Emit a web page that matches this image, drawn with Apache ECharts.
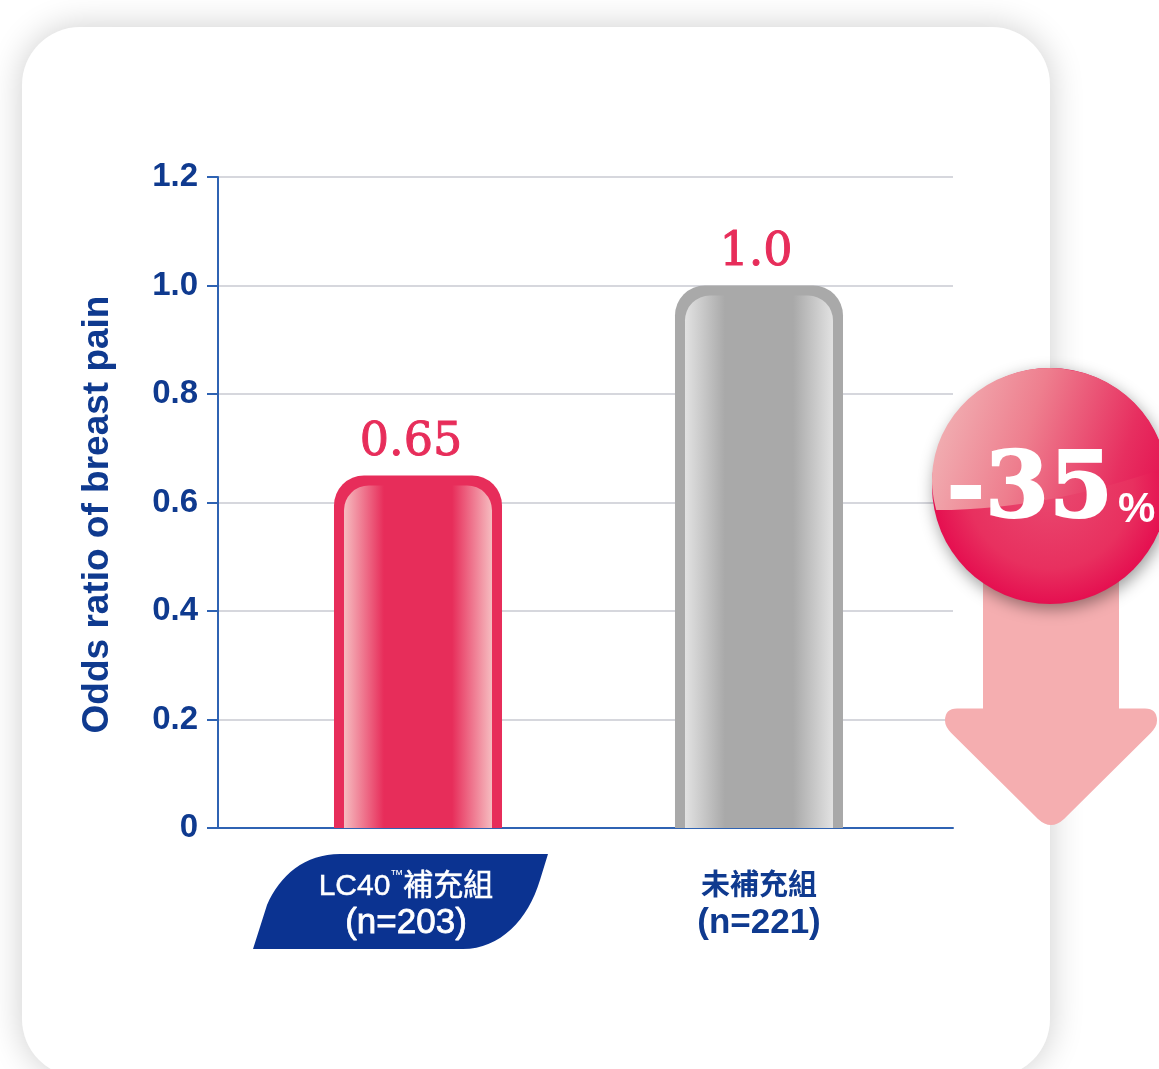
<!DOCTYPE html>
<html>
<head>
<meta charset="utf-8">
<style>
html, body { margin: 0; padding: 0; background: #fff; }
#chart { width: 1159px; height: 1069px; }
</style>
<script src="https://cdn.jsdelivr.net/npm/echarts@6/dist/echarts.min.js"></script>
</head>
<body>
<div id="chart"></div>
<script>
const categories = ['LC40™補充組', '未補充組'];
const sampleSizes = ['(n=203)', '(n=221)'];
const oddsRatios = [0.65, 1.0];
const valueLabels = ['0.65', '1.0'];
const yTickLabels = ['0', '0.2', '0.4', '0.6', '0.8', '1.0', '1.2'];
const yAxisTitle = 'Odds ratio of breast pain';
const reductionLabel = '-35';
const reductionUnit = '%';

const NAVY = '#0f3a8f';
const AXIS_BLUE = '#2f63b3';
const SANS = '"Liberation Sans", "Noto Sans CJK TC", sans-serif';
const SERIF = '"DejaVu Serif", serif';
const barColors = [
    { base: '#e72d5a', light: '#f6bcc0' },
    { base: '#a9a9a9', light: '#e2e2e2' },
];

function pathEl(d, x, y, width, height, style, z2) {
    return { type: 'path', z2: z2 || 0, shape: { pathData: d, x, y, width, height, layout: 'cover' }, style };
}

// card and label plate, sits under the axes
function renderBackdrop() {
    return {
        type: 'group',
        children: [
            {
                type: 'rect',
                shape: { x: 22, y: 27, width: 1028, height: 1050, r: 58 },
                style: { fill: '#fff', shadowBlur: 34, shadowColor: 'rgba(0,0,0,0.2)' },
            },
            pathEl('M253 949L267 905C280 875 305 854 340 854L548 854L540 880C528 920 500 949 463 949Z', 253, 854, 295, 95, { fill: '#0b3391' }, 1),
        ],
    };
}

// arrow and -35% ball, sits above the grid lines
function renderCallout() {
    const gloss = new echarts.graphic.LinearGradient(0, 0, 1, 0.55, [
        { offset: 0, color: '#f2bcbc' },
        { offset: 0.45, color: '#ee7e8e' },
        { offset: 0.85, color: '#e72f60' },
        { offset: 1, color: '#e51a55' },
    ]);
    const ball = new echarts.graphic.RadialGradient(0.5, 0.5, 0.5, [
        { offset: 0, color: '#e94a70' },
        { offset: 0.7, color: '#e8305f' },
        { offset: 1, color: '#e50f50' },
    ]);
    return {
        type: 'group',
        children: [
            pathEl('M983 560L1119 560L1119 708L1145 708Q1157 708 1157 720Q1157 726 1151 732L1064 818Q1051 830 1038 818L951 732Q945 726 945 720Q945 708 957 708L983 708Z',
                945, 560, 212, 265, { fill: '#f5aeb0' }, 0),
            {
                type: 'circle',
                z2: 1,
                shape: { cx: 1050, cy: 486, r: 118 },
                style: { fill: ball, shadowBlur: 16, shadowOffsetX: 2, shadowOffsetY: 5, shadowColor: 'rgba(0,0,0,0.4)' },
            },
            pathEl('M935 510A118 118 0 1 1 1166 465C1100 490 1020 510 935 510Z', 932, 368, 234, 142, { fill: gloss }, 2),
            {
                type: 'text',
                z2: 3,
                style: {
                    x: 1113, y: 493, text: reductionLabel, fill: '#fff', stroke: '#fff', lineWidth: 2,
                    fontFamily: SERIF, fontWeight: 'bold', fontSize: 92,
                    align: 'right', verticalAlign: 'middle',
                },
            },
            {
                type: 'text',
                z2: 3,
                style: {
                    x: 1118, y: 510, text: reductionUnit, fill: '#fff',
                    fontFamily: SANS, fontWeight: 'bold', fontSize: 42,
                    align: 'left', verticalAlign: 'middle',
                },
            },
        ],
    };
}

function renderBar(params, api) {
    const i = params.dataIndex;
    const top = api.coord([i, api.value(1)]);
    const bottom = api.coord([i, 0]);
    const w = api.size([1, 0])[0] * 0.4927;
    const x = top[0] - w / 2;
    const inset = 10;
    const colors = barColors[i];
    const sheen = new echarts.graphic.LinearGradient(0, 0, 1, 0, [
        { offset: 0, color: colors.light },
        { offset: 0.27, color: colors.base },
        { offset: 0.73, color: colors.base },
        { offset: 1, color: colors.light },
    ]);
    return {
        type: 'group',
        children: [
            {
                type: 'rect',
                shape: { x, y: top[1], width: w, height: bottom[1] - top[1], r: [30, 30, 0, 0] },
                style: { fill: colors.base },
            },
            {
                type: 'rect',
                shape: { x: x + inset, y: top[1] + inset, width: w - inset * 2, height: bottom[1] - top[1] - inset, r: [25, 25, 0, 0] },
                style: { fill: sheen },
            },
            {
                type: 'text',
                style: {
                    x: top[0] - (i === 0 ? 7 : 3), y: top[1] - 32, text: valueLabels[i], fill: '#e72d5a',
                    stroke: '#e72d5a', lineWidth: 1,
                    fontFamily: SERIF, fontSize: 46, align: 'center', verticalAlign: 'middle',
                },
            },
        ],
    };
}

const chart = echarts.init(document.getElementById('chart'));
chart.setOption({
    animation: false,
    backgroundColor: '#fff',
    grid: [
        { left: 218, top: 177, width: 735, height: 651 },
        { left: 247.5, top: 177, width: 682, height: 651 },
    ],
    xAxis: [
        {
            type: 'value', gridIndex: 0, min: 0, max: 1,
            axisLine: { show: true, lineStyle: { color: AXIS_BLUE, width: 2 } },
            axisTick: { show: false }, axisLabel: { show: false }, splitLine: { show: false },
        },
        {
            type: 'category', gridIndex: 1,
            data: categories.map((name, i) => ({
                value: name,
                textStyle: { padding: i === 0 ? [0, 24, 0, 0] : 0 },
            })),
            axisLine: { show: false }, axisTick: { show: false },
            axisLabel: {
                margin: 41,
                fontFamily: SANS,
                lineHeight: 36,
                formatter: (value, i) => {
                    const parts = value.split('™');
                    const head = parts.length > 1
                        ? `{h${i}|${parts[0]}}{tm|™}{h${i}|${parts[1]}}`
                        : `{h${i}|${value}}`;
                    return `${head}\n{n${i}|${sampleSizes[i]}}`;
                },
                rich: {
                    h0: { color: '#fff', fontFamily: SANS, fontSize: 30, lineHeight: 36, textBorderColor: '#fff', textBorderWidth: 0.5 },
                    n0: { color: '#fff', fontFamily: SANS, fontSize: 35, lineHeight: 36, textBorderColor: '#fff', textBorderWidth: 0.8 },
                    h1: { color: NAVY, fontFamily: SANS, fontSize: 29, lineHeight: 36, fontWeight: 'bold' },
                    n1: { color: NAVY, fontFamily: SANS, fontSize: 35, lineHeight: 36, fontWeight: 'bold' },
                    tm: { color: '#fff', fontFamily: SANS, fontSize: 13, verticalAlign: 'top', padding: [0, 0, 10, 0] },
                },
            },
        },
    ],
    yAxis: [
        {
            type: 'value', gridIndex: 0, min: 0, max: 1.2, interval: 0.2,
            name: yAxisTitle,
            nameLocation: 'middle',
            nameGap: 102,
            nameRotate: 90,
            nameTextStyle: { color: NAVY, fontFamily: SANS, fontWeight: 'bold', fontSize: 37, padding: [0, 24, 0, 0] },
            axisLine: { show: true, lineStyle: { color: AXIS_BLUE, width: 2 } },
            axisTick: { show: true, length: 11, lineStyle: { color: AXIS_BLUE, width: 2 } },
            axisLabel: {
                margin: 20, color: NAVY, fontFamily: SANS, fontWeight: 'bold', fontSize: 33, padding: [10, 0, 0, 0],
                formatter: (value) => yTickLabels[Math.round(value / 0.2)],
            },
            splitLine: { show: true, lineStyle: { color: '#d6d7dd', width: 2 } },
        },
        { type: 'value', gridIndex: 1, min: 0, max: 1.2, interval: 0.2, show: false },
    ],
    series: [
        { type: 'custom', coordinateSystem: 'none', z: -10, silent: true, data: [0], renderItem: renderBackdrop },
        {
            type: 'custom',
            xAxisIndex: 1,
            yAxisIndex: 1,
            z: 3,
            clip: false,
            data: oddsRatios.map((v, i) => [i, v]),
            encode: { x: 0, y: 1 },
            renderItem: renderBar,
        },
        { type: 'custom', coordinateSystem: 'none', z: 10, silent: true, data: [0], renderItem: renderCallout },
    ],
});
</script>
</body>
</html>
